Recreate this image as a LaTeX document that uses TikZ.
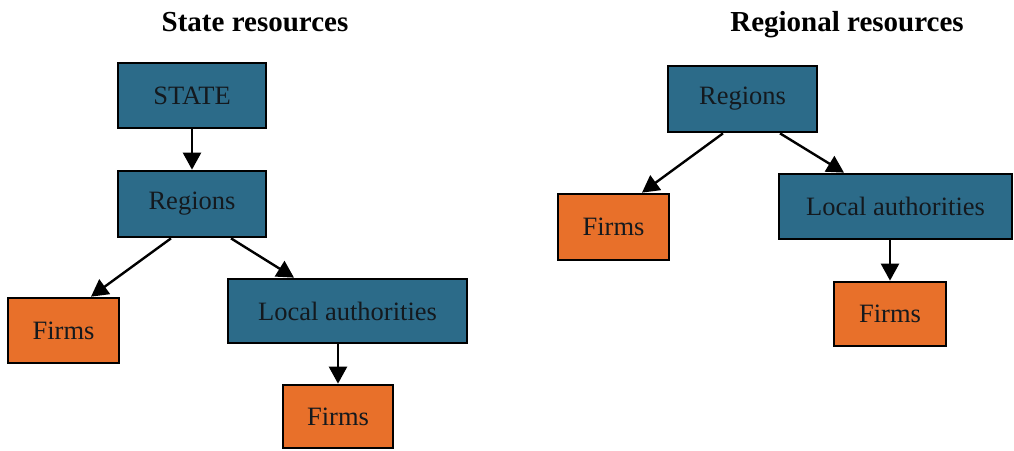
\documentclass[tikz,border=0pt]{standalone}
\usepackage{fontspec}
\setmainfont{Liberation Serif}
\usetikzlibrary{arrows.meta}
\definecolor{boxblue}{RGB}{44,107,137}
\definecolor{boxorange}{RGB}{232,112,42}
\definecolor{boxtext}{RGB}{20,25,30}
\tikzset{
  box/.style={draw=black, line width=2.7pt, rectangle, inner sep=0pt,
    text=boxtext, font=\fontsize{26.5}{30}\selectfont},
  bluebox/.style={box, fill=boxblue},
  orangebox/.style={box, fill=boxorange},
  title/.style={font=\fontsize{29}{34}\selectfont\bfseries, text=black},
  arr/.style={line width=2.4pt, -{Triangle[length=17pt,width=18pt]}}
}
\begin{document}
\begin{tikzpicture}[x=1pt,y=-1pt]
\useasboundingbox (0,0) rectangle (1014,450);
% titles
\node[title] (t1) at (255,22) {State resources};
\node[title] (t2) at (847,25) {Regional resources};
% left tree
\node[bluebox, minimum width=148pt, minimum height=65pt] (state) at (192,95.5) {STATE};
\node[bluebox, minimum width=148pt, minimum height=66pt] (regL) at (192,204) {Regions};
\node[orangebox, minimum width=111pt, minimum height=65pt] (firmsL) at (63.5,330.5) {Firms};
\node[bluebox, minimum width=239pt, minimum height=64pt] (localL) at (347.5,311) {Local authorities};
\node[orangebox, minimum width=110pt, minimum height=63pt] (firmsL2) at (338,416.5) {Firms};
% right tree
\node[bluebox, minimum width=149pt, minimum height=66pt] (regR) at (742.5,99) {Regions};
\node[orangebox, minimum width=111pt, minimum height=66pt] (firmsR) at (613.5,227) {Firms};
\node[bluebox, minimum width=233pt, minimum height=65pt] (localR) at (895.5,206.5) {Local authorities};
\node[orangebox, minimum width=112pt, minimum height=64pt] (firmsR2) at (890,314) {Firms};
% connectors left
\draw[arr] (state.south) -- (regL.north);
\draw[arr] ([xshift=-21pt]regL.south) -- ([xshift=27.5pt]firmsL.north);
\draw[arr] ([xshift=39pt]regL.south) -- ([xshift=-53.5pt]localL.north);
\draw[arr] (localL.south -| firmsL2.north) -- (firmsL2.north);
% connectors right
\draw[arr] ([xshift=-19.5pt]regR.south) -- ([xshift=28.5pt]firmsR.north);
\draw[arr] ([xshift=37.5pt]regR.south) -- ([xshift=-51.5pt]localR.north);
\draw[arr] (localR.south -| firmsR2.north) -- (firmsR2.north);
\end{tikzpicture}
\end{document}
